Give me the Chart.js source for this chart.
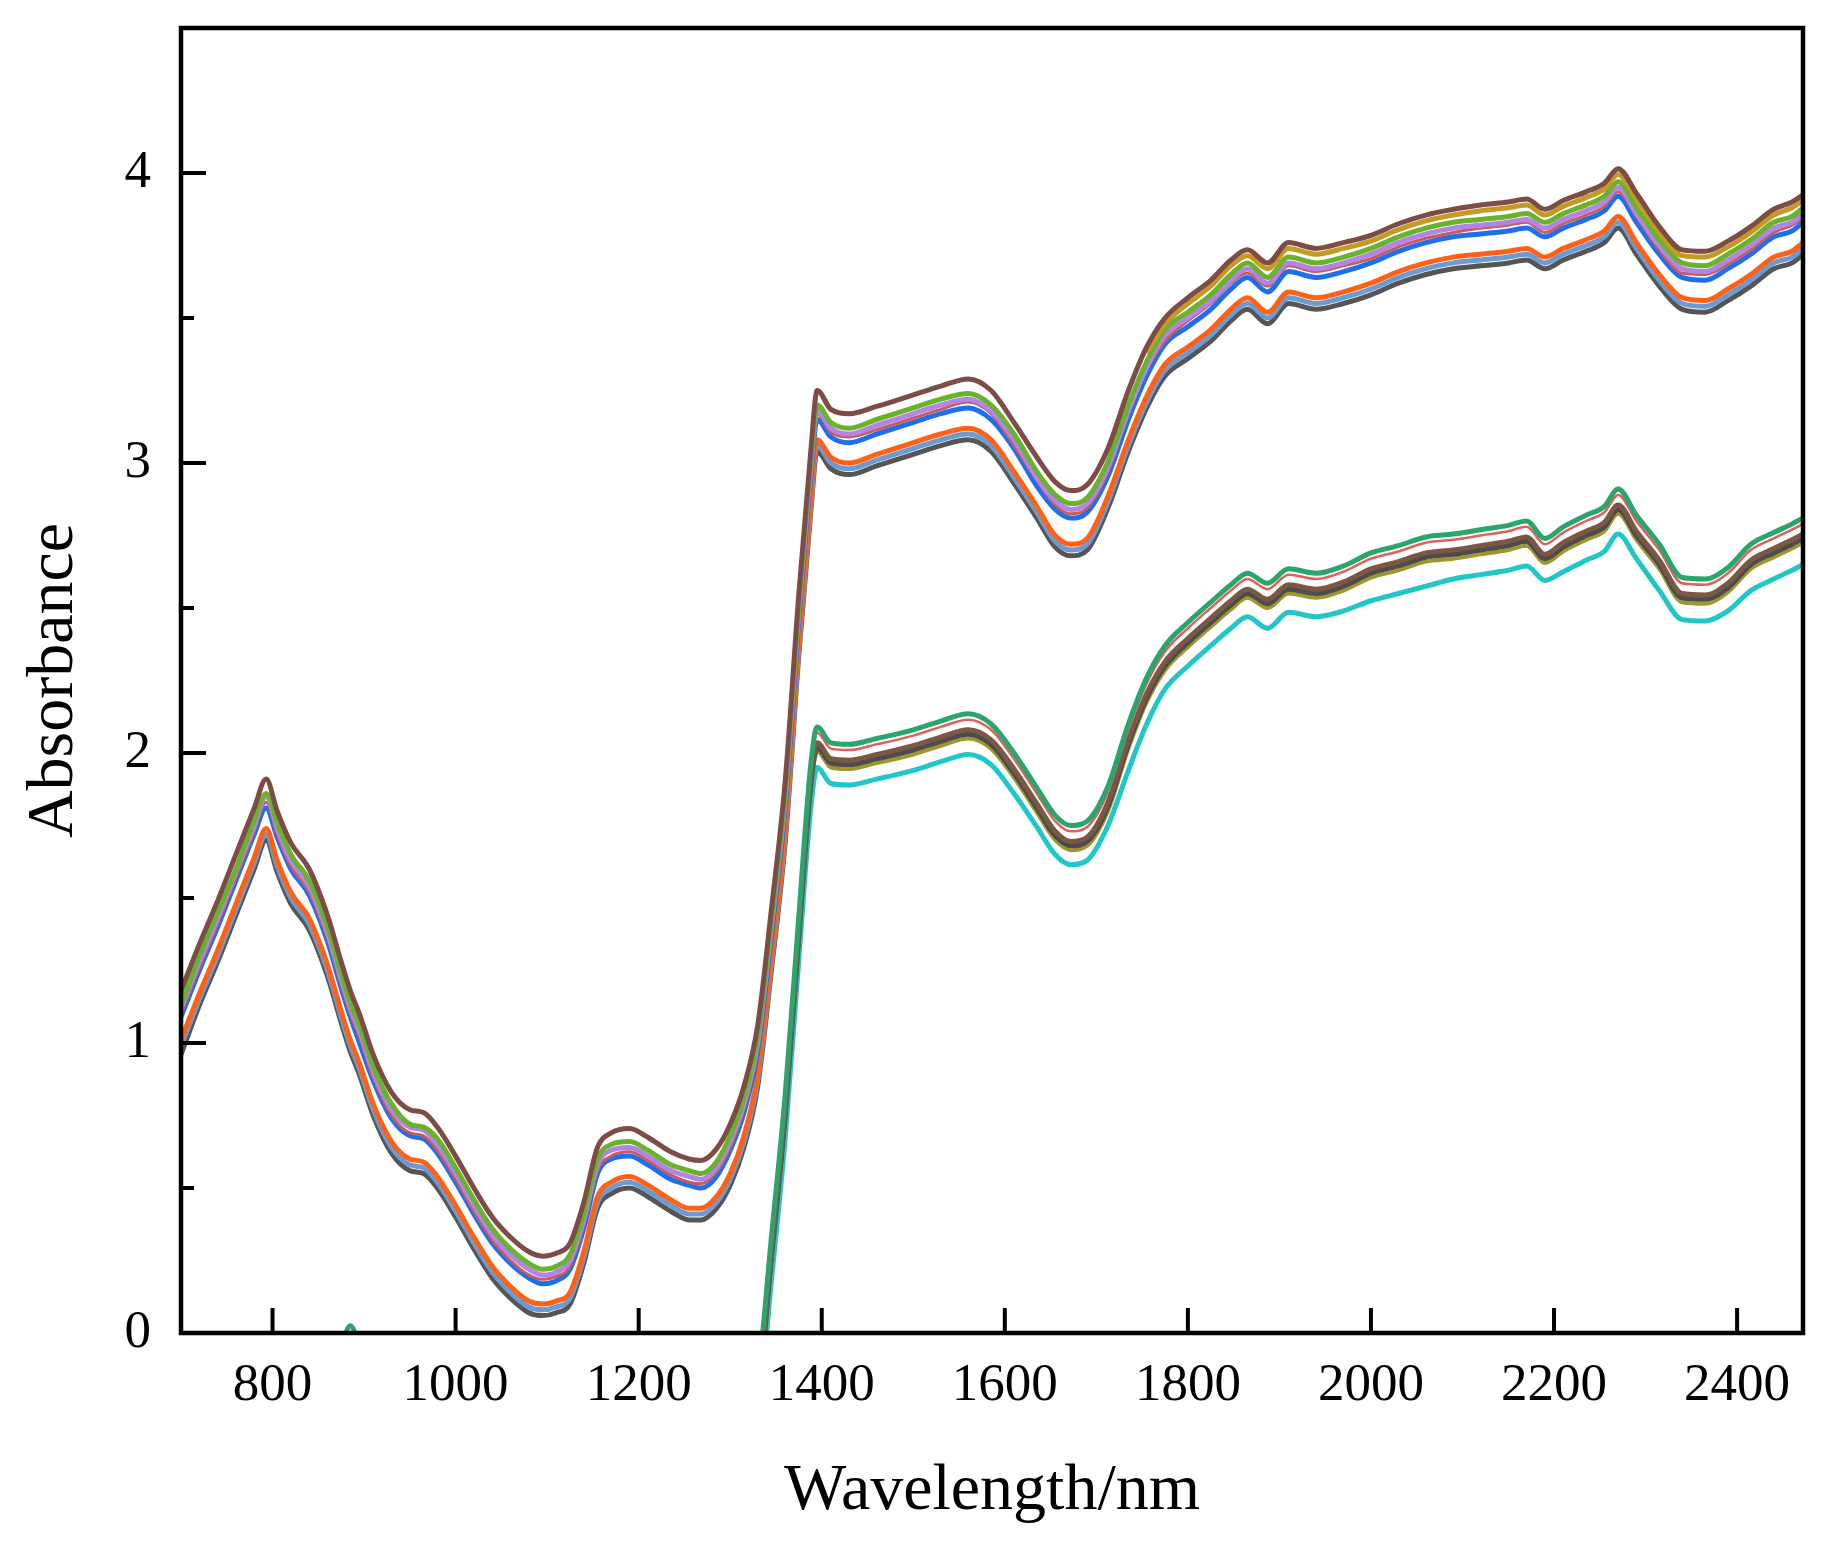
<!DOCTYPE html>
<html><head><meta charset="utf-8">
<script src="https://cdn.jsdelivr.net/npm/chart.js@4"></script>
<style>html,body{margin:0;padding:0;background:#fff}</style>
</head><body>
<canvas id="c" width="1839" height="1550"></canvas>
<script>
// ---- data ----
const wavelengths = [700,720,740,760,780,793,805,820,840,860,
 875,885,895,910,930,950,965,980,1000,1020,
 1040,1060,1080,1095,1110,1125,1140,1155,1170,1190,
 1210,1235,1255,1268,1285,1300,1315,1330,1345,1360,
 1375,1388,1395,1410,1430,1460,1500,1530,1560,1585,
 1610,1635,1655,1672,1690,1712,1735,1755,1775,1800,
 1825,1847,1865,1887,1910,1940,1970,2000,2030,2060,
 2090,2120,2150,2170,2190,2210,2235,2255,2270,2290,
 2315,2340,2365,2390,2415,2440,2460,2472];
const wavelengthsB = [1315,1330,1345,1360,1375,1388,1395,
 1410,1430,1460,1500,1530,1560,1585,
 1610,1635,1655,1672,1690,1712,1735,1755,1775,1800,
 1825,1847,1865,1887,1910,1940,1970,2000,2030,2060,
 2090,2120,2150,2170,2190,2210,2235,2255,2270,2290,
 2315,2340,2365,2390,2415,2440,2460,2472];
const wavelengthsTail = [1755,1775,1800,1825,1847,1865,1887,1910,1940,1970,
 2000,2030,2060,2090,2120,2150,2170,2190,2210,2235,
 2255,2270,2290,2315,2340,2365,2390,2415,2440,2460,2472];
const xTickValues = [800,1000,1200,1400,1600,1800,2000,2200,2400];
const yTickValues = [0,1,2,3,4];
const yMinorTickValues = [0.5,1.5,2.5,3.5,4.5];

// upper group of spectra
const upperBrown = [1.18,1.34,1.49,1.65,1.81,1.91,1.80,1.69,1.60,1.44,
 1.28,1.18,1.10,0.96,0.83,0.77,0.76,0.71,0.61,0.50,
 0.40,0.33,0.28,0.265,0.275,0.31,0.45,0.64,0.69,0.705,
 0.675,0.625,0.60,0.595,0.635,0.72,0.85,1.06,1.46,1.90,
 2.55,3.04,3.25,3.185,3.17,3.195,3.235,3.265,3.29,3.25,
 3.14,3.02,2.935,2.905,2.925,3.045,3.25,3.40,3.50,3.57,
 3.63,3.70,3.735,3.69,3.76,3.74,3.76,3.785,3.825,3.855,
 3.875,3.89,3.90,3.91,3.875,3.905,3.935,3.965,4.015,3.93,
 3.815,3.735,3.73,3.765,3.815,3.875,3.90,3.925];
const upperOlive = [3.38,3.48,3.55,3.61,3.68,3.715,3.67,3.74,3.72,3.74,
 3.765,3.805,3.835,3.855,3.87,3.88,3.89,3.855,3.885,3.915,
 3.945,3.995,3.91,3.795,3.715,3.71,3.745,3.795,3.855,3.88,3.905];
const upperGreen = [1.13,1.30,1.45,1.60,1.77,1.86,1.76,1.65,1.56,1.40,
 1.24,1.14,1.06,0.92,0.79,0.72,0.71,0.67,0.57,0.46,
 0.36,0.29,0.24,0.22,0.23,0.27,0.41,0.60,0.65,0.66,
 0.63,0.58,0.56,0.55,0.59,0.68,0.81,1.02,1.42,1.86,
 2.51,3.00,3.20,3.14,3.12,3.15,3.19,3.22,3.24,3.20,
 3.10,2.97,2.89,2.86,2.88,3.00,3.20,3.35,3.46,3.52,
 3.58,3.65,3.69,3.64,3.71,3.69,3.71,3.74,3.78,3.81,
 3.83,3.84,3.85,3.86,3.83,3.86,3.89,3.92,3.97,3.88,
 3.77,3.69,3.68,3.72,3.77,3.83,3.85,3.88];
const upperPurple = [1.12,1.28,1.43,1.59,1.75,1.85,1.74,1.63,1.54,1.38,
 1.22,1.12,1.04,0.90,0.77,0.71,0.70,0.65,0.55,0.44,
 0.34,0.27,0.22,0.20,0.21,0.25,0.39,0.58,0.63,0.64,
 0.61,0.56,0.54,0.53,0.57,0.66,0.79,1.00,1.40,1.84,
 2.49,2.98,3.18,3.12,3.10,3.13,3.17,3.20,3.22,3.18,
 3.08,2.95,2.87,2.84,2.86,2.98,3.18,3.33,3.44,3.50,
 3.56,3.63,3.67,3.62,3.69,3.67,3.69,3.72,3.76,3.79,
 3.81,3.82,3.83,3.84,3.81,3.84,3.87,3.90,3.95,3.86,
 3.75,3.67,3.66,3.70,3.75,3.81,3.83,3.86];
const upperRed = [1.10,1.26,1.41,1.57,1.73,1.83,1.72,1.61,1.52,1.36,
 1.20,1.10,1.02,0.88,0.75,0.69,0.68,0.63,0.53,0.42,
 0.32,0.25,0.20,0.185,0.195,0.23,0.37,0.56,0.61,0.625,
 0.595,0.545,0.52,0.515,0.555,0.64,0.77,0.98,1.38,1.82,
 2.47,2.96,3.17,3.105,3.09,3.115,3.155,3.185,3.21,3.17,
 3.06,2.94,2.855,2.825,2.845,2.965,3.17,3.32,3.42,3.49,
 3.55,3.62,3.655,3.61,3.68,3.66,3.68,3.705,3.745,3.775,
 3.795,3.81,3.82,3.83,3.795,3.825,3.855,3.885,3.935,3.85,
 3.735,3.655,3.65,3.685,3.735,3.795,3.82,3.845];
const upperBlue = [1.09,1.25,1.40,1.56,1.72,1.81,1.71,1.60,1.51,1.35,
 1.19,1.09,1.00,0.87,0.74,0.68,0.67,0.62,0.52,0.41,
 0.31,0.24,0.19,0.17,0.18,0.22,0.36,0.55,0.60,0.61,
 0.58,0.53,0.51,0.50,0.54,0.63,0.76,0.97,1.37,1.81,
 2.46,2.95,3.15,3.09,3.07,3.10,3.14,3.17,3.19,3.15,
 3.05,2.92,2.84,2.81,2.83,2.95,3.15,3.30,3.41,3.47,
 3.53,3.60,3.64,3.59,3.66,3.64,3.66,3.69,3.73,3.76,
 3.78,3.79,3.80,3.81,3.78,3.81,3.84,3.87,3.92,3.83,
 3.72,3.64,3.63,3.67,3.72,3.78,3.80,3.83];
const upperOrange = [1.01,1.17,1.32,1.48,1.64,1.74,1.63,1.52,1.43,1.27,
 1.11,1.01,0.93,0.79,0.66,0.60,0.59,0.54,0.44,0.33,
 0.23,0.16,0.11,0.10,0.11,0.14,0.28,0.47,0.52,0.54,
 0.51,0.46,0.43,0.43,0.47,0.55,0.68,0.89,1.29,1.73,
 2.38,2.87,3.08,3.02,3.00,3.03,3.07,3.10,3.12,3.08,
 2.97,2.85,2.75,2.72,2.74,2.88,3.08,3.23,3.34,3.40,
 3.46,3.53,3.57,3.52,3.59,3.57,3.59,3.62,3.66,3.69,
 3.71,3.72,3.73,3.74,3.71,3.74,3.77,3.80,3.85,3.76,
 3.65,3.57,3.56,3.60,3.65,3.71,3.73,3.76];
const upperSteel = [0.99,1.15,1.30,1.46,1.62,1.72,1.61,1.50,1.41,1.25,
 1.09,0.99,0.91,0.77,0.64,0.58,0.57,0.52,0.42,0.31,
 0.21,0.14,0.09,0.08,0.09,0.12,0.26,0.45,0.50,0.52,
 0.49,0.44,0.41,0.41,0.45,0.53,0.66,0.87,1.27,1.71,
 2.36,2.85,3.06,3.00,2.98,3.01,3.05,3.08,3.10,3.06,
 2.95,2.83,2.73,2.70,2.72,2.86,3.06,3.21,3.32,3.38,
 3.44,3.51,3.55,3.50,3.57,3.55,3.57,3.60,3.64,3.67,
 3.69,3.70,3.71,3.72,3.69,3.72,3.75,3.78,3.83,3.74,
 3.63,3.55,3.54,3.58,3.63,3.69,3.71,3.74];
const upperGray = [0.96,1.13,1.28,1.44,1.60,1.70,1.59,1.48,1.39,1.23,
 1.07,0.97,0.89,0.75,0.62,0.56,0.55,0.50,0.40,0.29,
 0.19,0.12,0.07,0.06,0.07,0.10,0.24,0.43,0.48,0.50,
 0.47,0.42,0.39,0.39,0.43,0.51,0.64,0.85,1.25,1.69,
 2.34,2.83,3.04,2.98,2.96,2.99,3.03,3.06,3.08,3.04,
 2.93,2.81,2.71,2.68,2.70,2.84,3.04,3.19,3.30,3.36,
 3.42,3.49,3.53,3.48,3.55,3.53,3.55,3.58,3.62,3.65,
 3.67,3.68,3.69,3.70,3.67,3.70,3.73,3.76,3.81,3.72,
 3.61,3.53,3.52,3.56,3.61,3.67,3.69,3.72];

// lower group of spectra
const lowerGreen = [-0.60,-0.50,-0.40,-0.32,-0.25,-0.20,-0.17,-0.14,-0.11,-0.08,
 -0.04,0.025,-0.04,-0.12,-0.22,-0.32,-0.38,-0.44,-0.50,-0.55,
 -0.60,-0.64,-0.67,-0.68,-0.67,-0.64,-0.58,-0.52,-0.50,-0.50,
 -0.51,-0.52,-0.53,-0.53,-0.50,-0.45,-0.36,-0.16,0.33,0.82,
 1.44,1.96,2.09,2.035,2.03,2.05,2.08,2.11,2.135,2.10,
 2.00,1.88,1.785,1.75,1.765,1.88,2.10,2.26,2.37,2.45,
 2.52,2.58,2.62,2.585,2.635,2.62,2.645,2.69,2.715,2.745,
 2.755,2.77,2.785,2.80,2.74,2.78,2.82,2.85,2.91,2.82,
 2.72,2.605,2.60,2.64,2.72,2.76,2.79,2.81];
const lowerRed = [-0.38,-0.18,0.31,0.80,1.42,1.94,2.07,
 2.015,2.01,2.03,2.06,2.09,2.115,2.08,
 1.98,1.86,1.765,1.73,1.745,1.86,2.08,2.24,2.35,2.43,
 2.50,2.56,2.60,2.565,2.615,2.60,2.625,2.67,2.695,2.725,
 2.735,2.75,2.765,2.78,2.72,2.76,2.80,2.83,2.89,2.80,
 2.70,2.585,2.58,2.62,2.70,2.74,2.77,2.79];
const lowerBrown = [-0.42,-0.215,0.275,0.765,1.385,1.905,2.035,
 1.98,1.975,1.995,2.025,2.055,2.08,2.045,
 1.945,1.825,1.73,1.695,1.71,1.825,2.045,2.205,2.315,2.395,
 2.465,2.525,2.565,2.53,2.58,2.565,2.59,2.635,2.66,2.69,
 2.70,2.715,2.73,2.745,2.685,2.725,2.765,2.795,2.855,2.765,
 2.665,2.55,2.545,2.585,2.665,2.705,2.735,2.755];
const lowerGray = [-0.43,-0.23,0.26,0.75,1.37,1.89,2.02,
 1.965,1.96,1.98,2.01,2.04,2.065,2.03,
 1.93,1.81,1.715,1.68,1.695,1.81,2.03,2.19,2.30,2.38,
 2.45,2.51,2.55,2.515,2.565,2.55,2.575,2.62,2.645,2.675,
 2.685,2.70,2.715,2.73,2.67,2.71,2.75,2.78,2.84,2.75,
 2.65,2.535,2.53,2.57,2.65,2.69,2.72,2.74];
const lowerOlive = [-0.45,-0.245,0.245,0.735,1.355,1.875,2.005,
 1.95,1.945,1.965,1.995,2.025,2.05,2.015,
 1.915,1.795,1.70,1.665,1.68,1.795,2.015,2.175,2.285,2.365,
 2.435,2.495,2.535,2.50,2.55,2.535,2.56,2.605,2.63,2.66,
 2.67,2.685,2.70,2.715,2.655,2.695,2.735,2.765,2.825,2.735,
 2.635,2.52,2.515,2.555,2.635,2.675,2.705,2.725];
const lowerCyan = [-0.52,-0.30,0.18,0.67,1.29,1.81,1.95,
 1.895,1.89,1.91,1.94,1.97,1.995,1.96,
 1.86,1.745,1.65,1.615,1.63,1.745,1.94,2.10,2.22,2.30,
 2.37,2.43,2.47,2.43,2.485,2.47,2.49,2.525,2.55,2.575,
 2.60,2.615,2.63,2.645,2.595,2.625,2.665,2.695,2.755,2.67,
 2.56,2.46,2.455,2.49,2.56,2.60,2.63,2.65];

// ---- chart ----
const FONT = "'Liberation Serif', 'Times New Roman', serif";
const series = [
  {name:'A1', xs: wavelengths,     ys: upperBrown,  color:'#7d4c47', w:5},
  {name:'A2', xs: wavelengthsTail, ys: upperOlive,  color:'#c39a22', w:5},
  {name:'A3', xs: wavelengths,     ys: upperGreen,  color:'#69b22c', w:5},
  {name:'A4', xs: wavelengths,     ys: upperPurple, color:'#b384e6', w:5},
  {name:'A5', xs: wavelengths,     ys: upperRed,    color:'#c95b5b', w:3},
  {name:'A6', xs: wavelengths,     ys: upperBlue,   color:'#1f6fec', w:5},
  {name:'A7', xs: wavelengths,     ys: upperOrange, color:'#ff6216', w:5},
  {name:'A8', xs: wavelengths,     ys: upperSteel,  color:'#6c9bd2', w:5},
  {name:'A9', xs: wavelengths,     ys: upperGray,   color:'#555555', w:5},
  {name:'B1', xs: wavelengths,     ys: lowerGreen,  color:'#2ba56b', w:5},
  {name:'B2', xs: wavelengthsB,    ys: lowerRed,    color:'#e0605c', w:2.5},
  {name:'B3', xs: wavelengthsB,    ys: lowerBrown,  color:'#7a5844', w:5},
  {name:'B4', xs: wavelengthsB,    ys: lowerGray,   color:'#4c4c4c', w:5},
  {name:'B5', xs: wavelengthsB,    ys: lowerOlive,  color:'#a0962e', w:4},
  {name:'B6', xs: wavelengthsB,    ys: lowerCyan,   color:'#20c6c8', w:5}
];

const datasets = series.map(s => ({
  label: s.name,
  data: s.xs.map((x, i) => ({x: x, y: s.ys[i]})),
  borderColor: s.color,
  backgroundColor: s.color,
  borderWidth: s.w,
  pointRadius: 0,
  fill: false,
  cubicInterpolationMode: 'monotone'
}));

const framePlugin = {
  id: 'frame',
  afterDatasetsDraw(chart) {
    const {ctx, chartArea: a, scales: {x, y}} = chart;
    ctx.save();
    ctx.strokeStyle = '#000';
    ctx.lineWidth = 4;
    ctx.lineCap = 'butt';
    ctx.beginPath();
    xTickValues.forEach(v => {
      const px = x.getPixelForValue(v);
      ctx.moveTo(px, a.bottom); ctx.lineTo(px, a.bottom - 25);
    });
    yTickValues.forEach(v => {
      const py = y.getPixelForValue(v);
      ctx.moveTo(a.left, py); ctx.lineTo(a.left + 25, py);
    });
    yMinorTickValues.forEach(v => {
      const py = y.getPixelForValue(v);
      ctx.moveTo(a.left, py); ctx.lineTo(a.left + 13, py);
    });
    ctx.stroke();
    ctx.lineWidth = 4.5;
    ctx.strokeRect(a.left, a.top, a.right - a.left, a.bottom - a.top);
    ctx.restore();
  }
};

new Chart(document.getElementById('c'), {
  type: 'line',
  data: {datasets},
  options: {
    responsive: false,
    animation: false,
    devicePixelRatio: 1,
    layout: {padding: {left: 0, top: 28, right: 36, bottom: 0}},
    plugins: {legend: {display: false}, tooltip: {enabled: false}},
    scales: {
      x: {
        type: 'linear', min: 700, max: 2472,
        afterBuildTicks: s => { s.ticks = xTickValues.map(v => ({value: v})); },
        afterFit: s => { s.height = 217; s.paddingLeft = 0; s.paddingRight = 0; },
        grid: {display: false, drawTicks: false}, border: {display: false},
        ticks: {font: {family: FONT, size: 53}, color: '#000', padding: 21, maxRotation: 0, autoSkip: false,
                callback: v => String(v)},
        title: {display: true, text: 'Wavelength/nm', color: '#000',
                font: {family: FONT, size: 66}, padding: {top: 0, bottom: 19}}
      },
      y: {
        type: 'linear', min: 0, max: 4.5,
        afterBuildTicks: s => { s.ticks = yTickValues.map(v => ({value: v})); },
        afterFit: s => { s.width = 181; s.paddingTop = 0; s.paddingBottom = 0; },
        grid: {display: false, drawTicks: false}, border: {display: false},
        ticks: {font: {family: FONT, size: 53}, color: '#000', padding: 30, autoSkip: false,
                callback: v => String(v)},
        title: {display: true, text: 'Absorbance', color: '#000',
                font: {family: FONT, size: 66}, padding: {top: 15, bottom: 0}}
      }
    }
  },
  plugins: [framePlugin]
});
</script>
</body></html>
